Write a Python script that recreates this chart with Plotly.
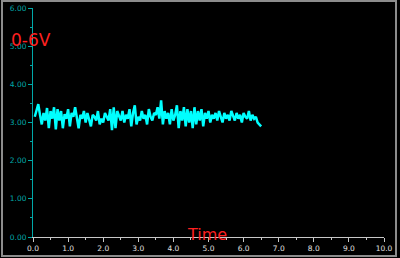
import plotly.graph_objects as go

# Data (time in s, voltage in V)
t_start = 0.05
t_step = 0.05
voltage = [
    3.15, 3.30, 3.48, 3.20, 2.95, 3.25, 3.05, 3.38, 2.85, 3.30,
    3.10, 3.40, 2.82, 3.35, 3.05, 3.30, 2.85, 3.22, 3.10, 3.35,
    2.90, 3.25, 3.15, 3.40, 3.05, 2.85, 3.20, 3.10, 3.30, 3.00,
    3.25, 3.10, 2.90, 3.20, 3.15, 3.05, 3.30, 2.95, 3.10, 3.00,
    3.25, 3.15, 3.05, 3.35, 2.80, 3.40, 2.85, 3.30, 3.15, 3.05,
    3.30, 3.00, 3.20, 3.10, 3.35, 2.90, 3.25, 3.45, 2.95, 3.15,
    3.05, 3.30, 3.10, 3.20, 2.95, 3.35, 3.15, 3.05, 3.25, 3.20,
    3.40, 3.10, 3.58, 2.95, 3.30, 3.10, 3.25, 2.95, 3.35, 3.05,
    3.20, 3.45, 2.85, 3.30, 3.05, 3.40, 2.90, 3.35, 3.00, 3.30,
    2.85, 3.40, 2.95, 3.30, 3.05, 3.35, 2.90, 3.25, 3.10, 3.30,
    3.00, 3.20, 3.10, 3.25, 3.05, 3.30, 3.15, 3.00, 3.25, 3.10,
    3.20, 3.05, 3.30, 3.15, 3.05, 3.25, 3.10, 3.20, 3.00, 3.25,
    3.15, 3.10, 3.30, 3.05, 3.20, 3.10, 3.15, 3.00, 2.95, 2.90,
]
time = [round(t_start + i * t_step, 3) for i in range(len(voltage))]

y_title = "0-6V"
x_title = "Time"

fig = go.Figure()
fig.add_trace(go.Scatter(
    x=time, y=voltage, mode="lines",
    line=dict(color="#00ffff", width=2.5),
    hoverinfo="skip",
))

W, H = 400, 258
L, R, T, B = 33, 16, 8, 21
pw, ph = W - L - R, H - T - B

def px(xp):
    return (xp - L) / pw

def py(yp):
    return (H - B - yp) / ph

fig.update_layout(
    width=W, height=H,
    margin=dict(l=L, r=R, t=T, b=B, autoexpand=False),
    paper_bgcolor="black", plot_bgcolor="black",
    showlegend=False,
    font=dict(family="DejaVu Sans", size=8),
    xaxis=dict(
        range=[0, 10], dtick=1, tickformat=".1f",
        showgrid=False, zeroline=False, automargin=False,
        showline=True, linecolor="#c8c8c8", linewidth=1,
        ticks="outside", ticklen=4, tickcolor="#c8c8c8",
        tickfont=dict(color="#e0e0e0", size=7.5, family="DejaVu Sans"),
        minor=dict(dtick=0.5, ticks="outside", ticklen=2, tickcolor="#c8c8c8"),
        fixedrange=True,
    ),
    yaxis=dict(
        range=[0, 6], dtick=1, tickformat=".2f",
        showgrid=False, zeroline=False, automargin=False,
        showline=True, linecolor="#00a8a8", linewidth=1,
        ticks="outside", ticklen=4, tickcolor="#00a8a8",
        tickfont=dict(color="#00a8a8", size=7.5, family="DejaVu Sans"),
        minor=dict(dtick=0.5, ticks="outside", ticklen=2, tickcolor="#00a8a8"),
        fixedrange=True,
    ),
    shapes=[dict(
        type="rect", xref="paper", yref="paper",
        x0=px(2), x1=px(396), y0=py(256), y1=py(1),
        line=dict(color="#8c8c8c", width=2), layer="below",
    )],
    annotations=[
        dict(text=y_title, xref="paper", yref="paper", x=px(9), y=py(40),
             xanchor="left", yanchor="middle", showarrow=False,
             font=dict(color="#ff2020", size=17, family="DejaVu Sans")),
        dict(text=x_title, xref="paper", yref="paper", x=px(207), y=py(234),
             xanchor="center", yanchor="middle", showarrow=False,
             font=dict(color="#ff2020", size=16, family="DejaVu Sans")),
    ],
)

fig.write_html("out.html", config=dict(displayModeBar=False))
